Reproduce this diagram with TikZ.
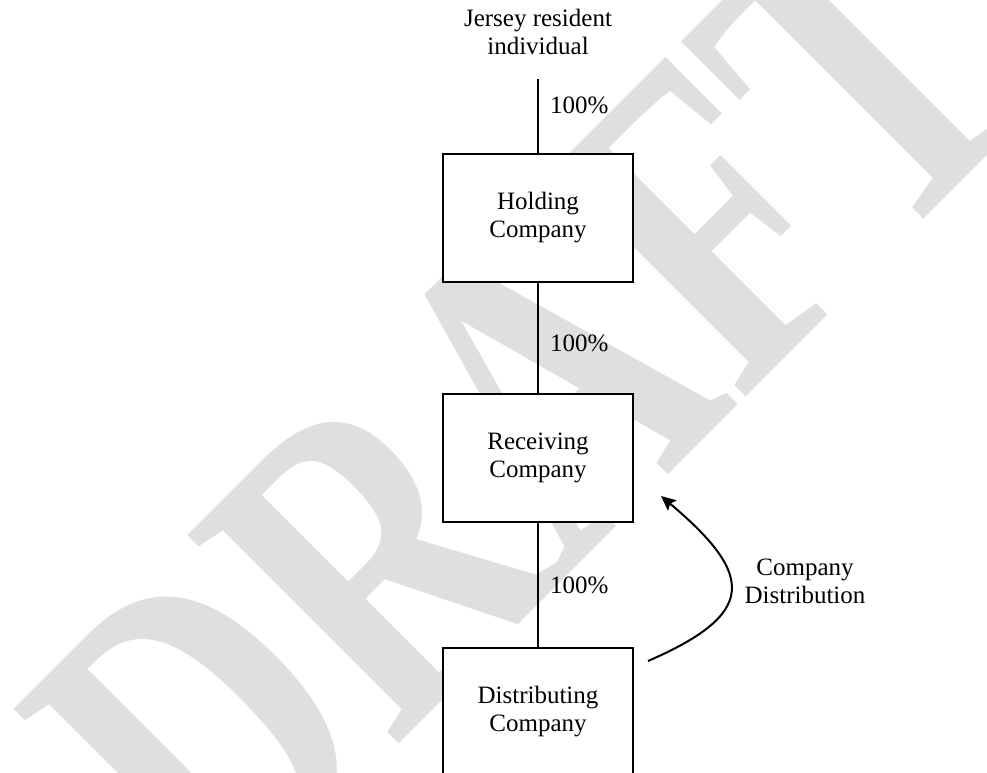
\documentclass[tikz,border=0pt]{standalone}
\usepackage{fontspec}
\setmainfont{Liberation Serif}
\usetikzlibrary{arrows.meta}

\definecolor{wmgray}{RGB}{223,223,223}
\newcommand{\lblfont}{\fontsize{18.75pt}{21pt}\selectfont}
\newcommand{\wmfont}{\fontsize{340pt}{340pt}\selectfont\bfseries}

\begin{document}
\begin{tikzpicture}[x=0.75pt, y=-0.75pt,
  entity/.style={draw=black, line width=1.5pt, fill=white,
    minimum width=142.5pt, minimum height=96pt, inner sep=0pt,
    align=center, font=\lblfont},
  plain/.style={align=center, inner sep=0pt, font=\lblfont},
  owner/.style={draw=black, line width=1.5pt},
  pct/.style={anchor=west, inner xsep=8.25pt, inner ysep=0pt, font=\lblfont},
  flow/.style={draw=black, line width=1.5pt,
    -{Stealth[length=11pt, width=10pt, inset=2pt]}},
  watermark/.style={rotate=45, xscale=0.75, inner sep=0pt, text=wmgray,
    font=\wmfont}]

  % canvas
  \fill[white] (0,0) rectangle (987,772);
  \useasboundingbox (0,0) rectangle (987,772);

  % background watermark
  \node[watermark] (wm) at (528,404) {DRAFT};

  % ownership chain
  \node[plain, inner ysep=18pt] (jersey) at (538,32) {Jersey resident\\individual};
  \node[entity] (hold) at (538,218) {Holding\\Company};
  \node[entity] (recv) at (538,458) {Receiving\\Company};
  \node[entity] (dist) at (538,712) {Distributing\\Company};

  \draw[owner] (jersey) -- node[pct, pos=0.35] {100\%} (hold);
  \draw[owner] (hold) -- node[pct, pos=0.545] {100\%} (recv);
  \draw[owner] (recv) -- node[pct, pos=0.5] {100\%} (dist);

  % distribution flowing back up
  \coordinate (dfrom) at ([shift={(14,14)}]dist.north east);
  \coordinate (dto) at ([shift={(27,-27)}]recv.south east);
  \draw[flow] (dfrom) .. controls +(108,-47) and +(95,80) .. (dto);
  \node[plain] (cdlbl) at (805,581) {Company\\Distribution};
\end{tikzpicture}
\end{document}
